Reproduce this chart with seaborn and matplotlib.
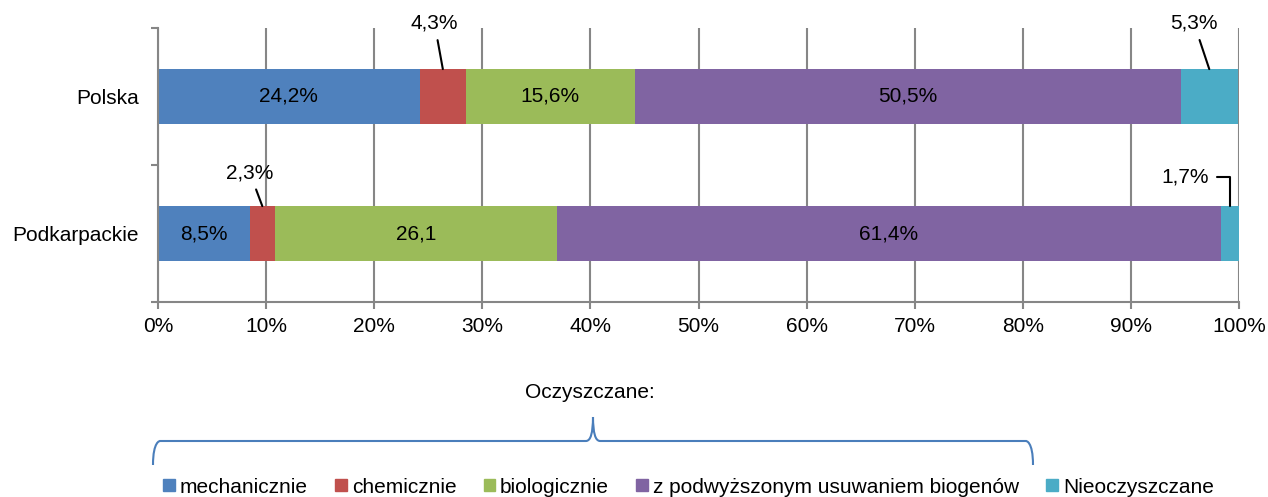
import numpy as np
import pandas as pd
import matplotlib.pyplot as plt
import matplotlib.patches as mpatches
from matplotlib.path import Path
import seaborn as sns

regions = ['Polska', 'Podkarpackie']
categories = ['mechanicznie', 'chemicznie', 'biologicznie',
              'z podwyższonym usuwaniem biogenów', 'Nieoczyszczane']
polska = [24.2, 4.3, 15.6, 50.5, 5.3]
podkarpackie = [8.5, 2.3, 26.1, 61.4, 1.7]
inside_labels = [['24,2%', None, '15,6%', '50,5%', None],
                 ['8,5%', None, '26,1', '61,4%', None]]
outside_labels = [[None, '4,3%', None, None, '5,3%'],
                  [None, '2,3%', None, None, '1,7%']]
colors = ['#4F81BD', '#C0504D', '#9BBB59', '#8064A2', '#4BACC6']
x_ticks = np.arange(0, 101, 10)

sns.set_style('white')
plt.rcParams['font.family'] = ['Liberation Sans', 'DejaVu Sans']
plt.rcParams['text.color'] = 'black'
plt.rcParams['xtick.labelcolor'] = 'black'
plt.rcParams['ytick.labelcolor'] = 'black'

df = pd.DataFrame([polska, podkarpackie], columns=categories)
df['region'] = regions
cum = df[categories].cumsum(axis=1)
cum['region'] = regions

fig = plt.figure(figsize=(12.68, 4.97), dpi=100)
ax = fig.add_axes([158 / 1268, 1 - 302 / 497, 1081 / 1268, 274 / 497])

# stacked bars: draw the longest cumulative first, shorter ones on top
for cat, col in reversed(list(zip(categories, colors))):
    sns.barplot(data=cum, x=cat, y='region', order=regions, color=col,
                orient='h', width=0.4, saturation=1, linewidth=0, ax=ax)

ax.set_xlim(0, 100)
ax.set_xticks(x_ticks)
ax.set_xticklabels([f'{t}%' for t in x_ticks], fontsize=15)
ax.set_yticks([0, 1])
ax.set_yticklabels(regions, fontsize=15)
ax.set_yticks([-0.5, 0.5, 1.5], minor=True)
ax.tick_params(axis='y', which='major', length=0, pad=14)
ax.tick_params(axis='y', which='minor', length=5, width=1.5, color='#868686', left=True)
ax.tick_params(axis='x', length=5, width=1.5, color='#868686', bottom=True, pad=6)
ax.set_xlabel('')
ax.set_ylabel('')
ax.grid(axis='x', color='#868686', linewidth=1.5)
ax.set_axisbelow(True)
for s in ['top', 'right']:
    ax.spines[s].set_visible(False)
for s in ['left', 'bottom']:
    ax.spines[s].set_color('#868686')
    ax.spines[s].set_linewidth(1.5)

# labels
offsets = {'4,3%': (-6, 33), '5,3%': (-11, 33), '2,3%': (-9, 24), '1,7%': (-32, 21)}
for i, row in enumerate([polska, podkarpackie]):
    left = 0
    for j, v in enumerate(row):
        mid = left + v / 2
        if inside_labels[i][j]:
            ax.text(mid, i, inside_labels[i][j], ha='center', va='center', fontsize=15)
        lab = outside_labels[i][j]
        if lab:
            conn = 'angle,angleA=0,angleB=90,rad=0' if lab == '1,7%' else 'arc3'
            ax.annotate(lab, xy=(mid, i - 0.2), xytext=offsets[lab],
                        textcoords='offset points', ha='center', va='center',
                        fontsize=15, annotation_clip=False,
                        arrowprops=dict(arrowstyle='-', color='black', lw=1.5,
                                        shrinkA=3, shrinkB=0, connectionstyle=conn))
        left += v

# brace and caption
fig.text(590 / 1268, 1 - 393 / 497, 'Oczyszczane:', ha='center', va='center', fontsize=15)
pts = [(153, 465), (153, 441), (160, 441), (160, 441),
       (586, 441), (593, 441), (593, 417),
       (593, 441), (600, 441),
       (1026, 441), (1026, 441), (1033, 441), (1033, 465)]
codes = [Path.MOVETO, Path.CURVE4, Path.CURVE4, Path.CURVE4,
         Path.LINETO, Path.CURVE3, Path.CURVE3,
         Path.CURVE3, Path.CURVE3,
         Path.LINETO, Path.CURVE4, Path.CURVE4, Path.CURVE4]
verts = [(x / 1268, 1 - y / 497) for x, y in pts]
fig.add_artist(mpatches.PathPatch(Path(verts, codes), fill=False, edgecolor='#4A7EBB',
                                  lw=1.5, transform=fig.transFigure))

handles = [mpatches.Patch(color=c, label=l) for c, l in zip(colors, categories)]
fig.legend(handles=handles, loc='center', bbox_to_anchor=(0.543, 0.02), ncol=5,
           frameon=False, fontsize=15, handlelength=0.55, handleheight=0.55,
           handletextpad=0.25, columnspacing=1.3, borderpad=0)

fig.savefig('out.png', dpi=100)
